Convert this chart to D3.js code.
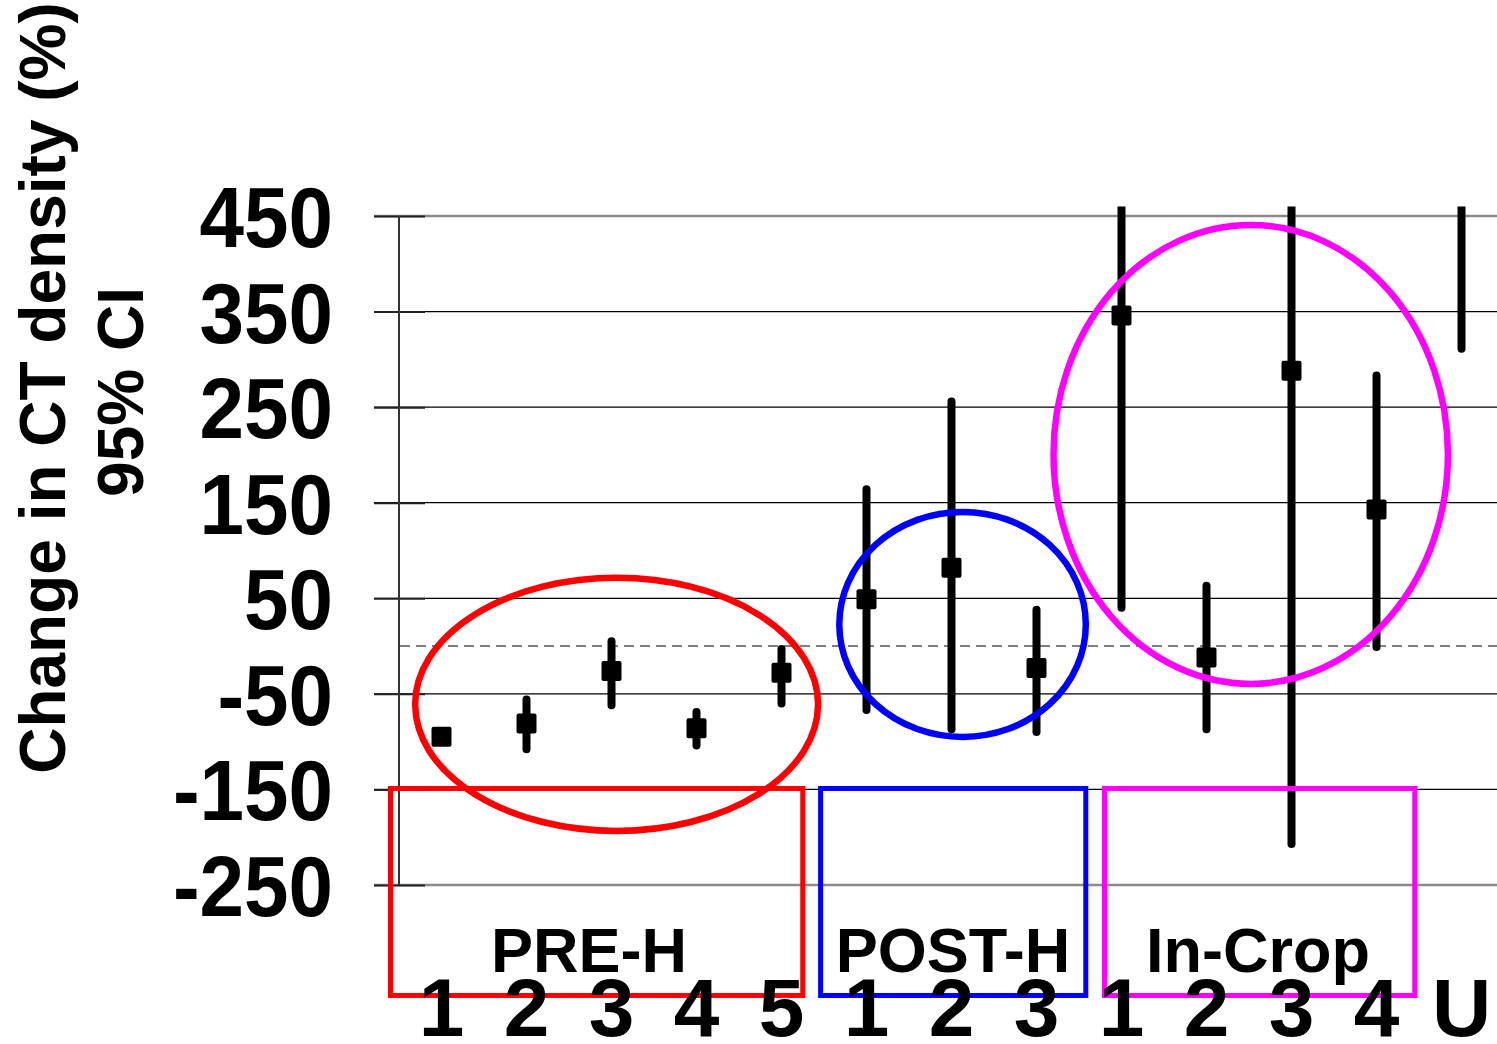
<!DOCTYPE html>
<html>
<head>
<meta charset="utf-8">
<script src="https://cdn.jsdelivr.net/npm/d3@7"></script>
<style>
  html, body { margin: 0; padding: 0; background: #fff; }
  svg { display: block; }
  text { font-family: "Liberation Sans", Arial, sans-serif; font-weight: bold; fill: #000; }
</style>
</head>
<body>
<svg id="chart" width="1497" height="1044"></svg>
<script>
// ---- data ----
const categories = ["1","2","3","4","5","1","2","3","1","2","3","4","U"];
const groups     = ["PRE-H","PRE-H","PRE-H","PRE-H","PRE-H","POST-H","POST-H","POST-H","In-Crop","In-Crop","In-Crop","In-Crop","U"];
const means      = [-95, -81, -26, -86, -28, 49, 82, -23, 346, -12, 288, 143, 650];
const lowerCI    = [-100, -108, -62, -104, -60, -67, -87, -90, 40, -87, -207, -1, 311];
const upperCI    = [-90, -56, 5, -69, -3, 164, 256, 38, 600, 63, 600, 283, 700];
const yTicks     = [450, 350, 250, 150, 50, -50, -150, -250];
const yTitle     = ["Change in CT density (%)", "95% CI"];

// group annotations (category-index units, value units)
const boxNames   = ["PRE-H", "POST-H", "In-Crop"];
const boxColors  = ["#ff0000", "#0000ff", "#ff00ff"];
const boxStart   = [-0.6, 4.46, 7.8];
const boxEnd     = [4.25, 7.58, 11.45];
const ellCx      = [2.06, 6.13, 9.52];
const ellRx      = [2.37, 1.45, 2.32];
const ellCy      = [-61, 22.6, 200.5];
const ellRy      = [132.4, 117.7, 240.1];

// ---- scales ----
const svg = d3.select("#chart");
const x = d3.scaleBand().domain(d3.range(categories.length)).range([399, 1504]).padding(0);
const pos = i => x.range()[0] + x.step() * (i + 0.5);
const y = d3.scaleLinear().domain([-250, 450]).range([885, 216]);
const yMaxVisible = 460;

// clip
svg.append("defs").append("clipPath").attr("id", "clipTop")
  .append("rect").attr("x", 0).attr("y", y(yMaxVisible)).attr("width", 1497).attr("height", 1044 - y(yMaxVisible));

// gridlines
svg.append("g").selectAll("line").data(yTicks).join("line")
  .attr("x1", 374).attr("x2", 1497)
  .attr("y1", d => y(d)).attr("y2", d => y(d))
  .attr("stroke", d => (d === 450 || d === -250) ? "#8a8a8a" : "#000")
  .attr("stroke-width", d => (d === 450 || d === -250) ? 2.5 : 1.2);

// axis (ticks + line)
const yAxis = d3.axisLeft(y).tickValues(yTicks).tickSize(0).tickFormat("");
const axG = svg.append("g").attr("transform", "translate(399,0)").call(yAxis);
axG.select(".domain").remove();
axG.selectAll(".tick").append("line").attr("x1", -25).attr("x2", 26).attr("stroke", "#222").attr("stroke-width", 2);
svg.append("line").attr("x1", 399).attr("x2", 399).attr("y1", y(450)).attr("y2", y(-250))
  .attr("stroke", "#333").attr("stroke-width", 2);

// tick labels
svg.append("g").selectAll("text").data(yTicks).join("text")
  .attr("transform", d => `translate(333,${y(d) + 31}) scale(1,1.07)`)
  .attr("text-anchor", "end")
  .attr("font-size", 80)
  .text(d => d);

// zero dashed line
svg.append("line").attr("x1", 400).attr("x2", 1497).attr("y1", y(0)).attr("y2", y(0))
  .attr("stroke", "#555").attr("stroke-width", 1.5).attr("stroke-dasharray", "10,6");

// y title
svg.append("text").attr("transform", `translate(65,388) rotate(-90)`)
  .attr("text-anchor", "middle").attr("font-size", 64).text(yTitle[0]);
svg.append("text").attr("transform", `translate(143,392) rotate(-90)`)
  .attr("text-anchor", "middle").attr("font-size", 64).text(yTitle[1]);

// error bars + squares
const idx = d3.range(categories.length);
const marks = svg.append("g").attr("clip-path", "url(#clipTop)");
marks.selectAll("line.ci").data(idx).join("line").attr("class", "ci")
  .attr("x1", i => pos(i)).attr("x2", i => pos(i))
  .attr("y1", i => y(upperCI[i])).attr("y2", i => y(lowerCI[i]))
  .attr("stroke", "#000").attr("stroke-width", 8).attr("stroke-linecap", "round");
marks.selectAll("rect.pt").data(idx).join("rect").attr("class", "pt")
  .attr("x", i => pos(i) - 10).attr("y", i => y(means[i]) - 10)
  .attr("width", 20).attr("height", 20).attr("rx", 2)
  .attr("fill", "#000");

// group ellipses
svg.append("g").selectAll("ellipse").data(d3.range(boxNames.length)).join("ellipse")
  .attr("cx", k => pos(ellCx[k]))
  .attr("cy", k => y(ellCy[k]))
  .attr("rx", k => ellRx[k] * x.step())
  .attr("ry", k => y(ellCy[k] - ellRy[k]) - y(ellCy[k]))
  .attr("fill", "none").attr("stroke", k => boxColors[k]).attr("stroke-width", 6.5);

// group boxes
svg.append("g").selectAll("rect").data(d3.range(boxNames.length)).join("rect")
  .attr("x", k => pos(boxStart[k]))
  .attr("y", y(-149))
  .attr("width", k => pos(boxEnd[k]) - pos(boxStart[k]))
  .attr("height", 207)
  .attr("fill", "none").attr("stroke", k => boxColors[k]).attr("stroke-width", 5);

// group labels
svg.append("g").selectAll("text").data(d3.range(boxNames.length)).join("text")
  .attr("x", k => [589, 953, 1258][k])
  .attr("y", 972)
  .attr("text-anchor", "middle").attr("font-size", 63)
  .text(k => boxNames[k]);

// category labels
svg.append("g").selectAll("text").data(idx).join("text")
  .attr("x", i => pos(i)).attr("y", 1036)
  .attr("text-anchor", "middle").attr("font-size", 82)
  .text(i => categories[i]);
</script>
</body>
</html>
